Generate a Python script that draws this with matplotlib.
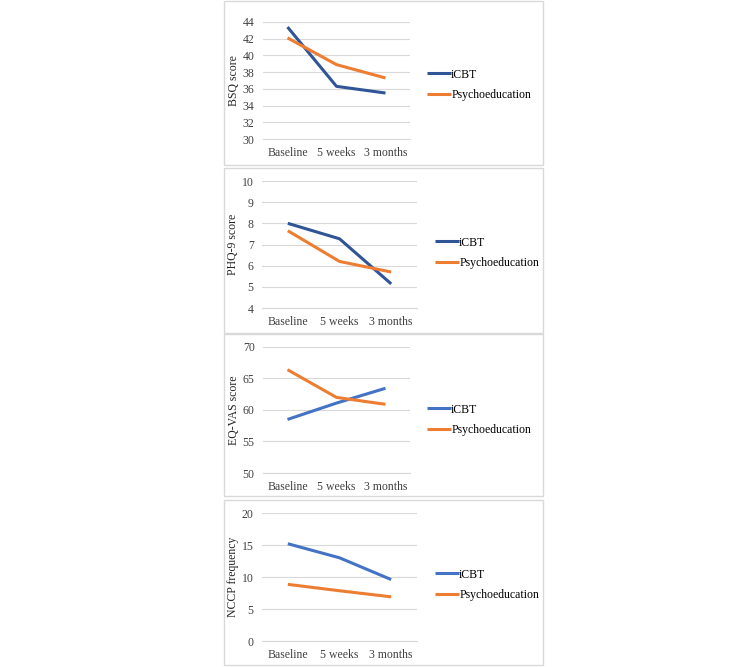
import matplotlib.pyplot as plt
from matplotlib.patches import Rectangle

plt.rcParams['font.family'] = ['Liberation Serif', 'DejaVu Serif']

timepoints = ["Baseline", "5 weeks", "3 months"]

bsq_icbt = [43.4, 36.3, 35.5]
bsq_psych = [42.1, 38.9, 37.3]

phq_icbt = [8.0, 7.27, 5.14]
phq_psych = [7.65, 6.2, 5.7]

eq_icbt = [58.5, 61.1, 63.45]
eq_psych = [66.4, 62.0, 60.9]

nccp_icbt = [15.2, 13.0, 9.6]
nccp_psych = [8.85, 7.85, 6.9]

W, H = 755, 667
fig = plt.figure(figsize=(W / 100, H / 100), dpi=100)

orange = "#ED7D31"
dark_blue = "#2F5597"
light_blue = "#4472C4"
grid_col = "#D9D9D9"

# panel frames (pixel: left, right, top, bottom)
frames = [(224, 543, 1, 165), (224, 543, 168, 333),
          (224, 543, 334, 496), (224, 543, 500, 665)]
for l, r, t, b in frames:
    fig.patches.append(Rectangle((l / W, 1 - b / H), (r - l) / W, (b - t) / H,
                                 transform=fig.transFigure, fill=False,
                                 edgecolor=grid_col, linewidth=1.0))

# axes (pixel: left, right, top, bottom), ylim, yticks, ylabel, blue, legend x, legend y
panels = [
    ((263, 410, 22, 139), (30, 44), range(30, 45, 2), "BSQ score",
     bsq_icbt, bsq_psych, dark_blue, 427, 85),
    ((262, 417, 181, 308), (4, 10), range(4, 11), "PHQ-9 score",
     phq_icbt, phq_psych, dark_blue, 435, 253),
    ((263, 410, 347, 473), (50, 70), range(50, 71, 5), "EQ-VAS score",
     eq_icbt, eq_psych, light_blue, 427, 420),
    ((262, 417, 513, 641), (0, 20), range(0, 21, 5), "NCCP frequency",
     nccp_icbt, nccp_psych, light_blue, 435, 585),
]

x = range(len(timepoints))
for (l, r, t, b), ylim, yticks, ylabel, icbt, psych, blue, legx, legy in panels:
    ax = fig.add_axes([l / W, 1 - b / H, (r - l) / W, (b - t) / H])
    h1, = ax.plot(x, icbt, color=blue, linewidth=2.2, label="iCBT",
                  solid_capstyle="butt")
    h2, = ax.plot(x, psych, color=orange, linewidth=2.2, label="Psychoeducation",
                  solid_capstyle="butt")
    ax.set_xlim(-0.5, len(timepoints) - 0.5)
    ax.set_ylim(*ylim)
    ax.set_yticks(list(yticks))
    ax.set_xticks(list(x))
    ax.set_xticklabels(timepoints)
    ax.yaxis.grid(True, color=grid_col, linewidth=0.8)
    ax.set_axisbelow(True)
    for s in ax.spines.values():
        s.set_visible(False)
    ax.spines["bottom"].set_visible(True)
    ax.spines["bottom"].set_color(grid_col)
    ax.spines["bottom"].set_linewidth(0.8)
    ax.tick_params(length=0, labelsize=8.5, colors="#404040", pad=6)
    ax.set_ylabel(ylabel, fontsize=8.5, color="#262626", labelpad=2)
    fig.legend(handles=[h1, h2], loc="center left",
               bbox_to_anchor=(legx / W, 1 - legy / H), frameon=False,
               fontsize=8.5, handlelength=2.0, handletextpad=0.05,
               labelspacing=0.75, borderpad=0, borderaxespad=0)

fig.savefig("out.png", dpi=100, facecolor="white")
